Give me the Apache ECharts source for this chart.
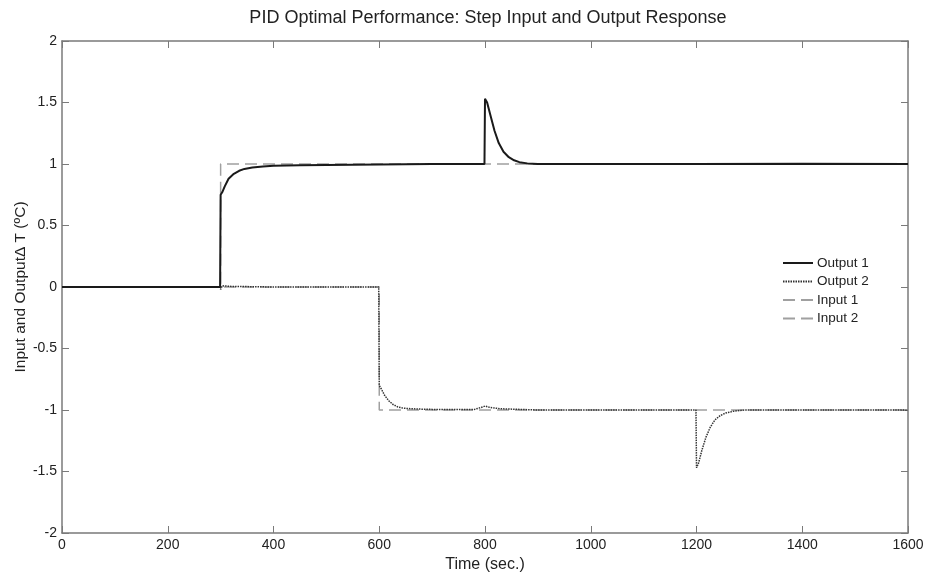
<!DOCTYPE html>
<html>
<head>
<meta charset="utf-8">
<script src="https://cdn.jsdelivr.net/npm/echarts@6/dist/echarts.min.js"></script>
<style>
  html, body { margin: 0; padding: 0; background: #fff; }
  #main { width: 925px; height: 574px; }
</style>
</head>
<body>
<div id="main"></div>
<script>
// values
var xTicks = [0, 200, 400, 600, 800, 1000, 1200, 1400, 1600];
var yTicks = [-2, -1.5, -1, -0.5, 0, 0.5, 1, 1.5, 2];

var out1Time  = [0, 299, 300, 303, 308, 315, 325, 335, 345, 360, 380, 400, 450, 500, 600, 700, 799, 800, 804, 810, 818, 826, 835, 845, 855, 865, 880, 900, 1200, 1400, 1600];
var out1Value = [0, 0, 0.75, 0.77, 0.82, 0.88, 0.92, 0.945, 0.96, 0.972, 0.98, 0.985, 0.99, 0.992, 0.996, 1.0, 1.0, 1.53, 1.5, 1.4, 1.27, 1.17, 1.1, 1.055, 1.03, 1.015, 1.005, 1.0, 1.0, 1.003, 1.0];

var out2Time  = [0, 299, 300, 303, 320, 400, 599, 600, 604, 610, 618, 626, 635, 645, 660, 680, 700, 780, 792, 800, 810, 830, 900, 1199, 1200, 1204, 1210, 1218, 1226, 1235, 1245, 1255, 1270, 1290, 1600];
var out2Value = [0, 0, -0.02, 0.01, 0.005, 0.0, 0.0, -0.8, -0.83, -0.88, -0.925, -0.955, -0.975, -0.985, -0.99, -0.993, -0.995, -0.995, -0.98, -0.968, -0.98, -0.99, -1.0, -1.0, -1.47, -1.43, -1.33, -1.22, -1.14, -1.08, -1.045, -1.025, -1.01, -1.0, -1.0];

var in1Time  = [0, 300, 300, 1600];
var in1Value = [0, 0, 1, 1];
var in2Time  = [0, 600, 600, 1600];
var in2Value = [0, 0, -1, -1];

function pairs(t, v) {
  var res = [];
  for (var i = 0; i < t.length; i++) res.push([t[i], v[i]]);
  return res;
}

var font = 'Liberation Sans, Arial, sans-serif';
var axisColor = '#7a7a7a';
var textColor = '#222';

var option = {
  backgroundColor: '#fff',
  animation: false,
  title: {
    text: 'PID Optimal Performance: Step Input and Output Response',
    left: 483,
    textAlign: 'center',
    top: 4,
    textStyle: { fontFamily: font, fontSize: 18, fontWeight: 'normal', color: textColor }
  },
  legend: {
    orient: 'vertical',
    left: 777,
    top: 251,
    itemWidth: 30,
    itemHeight: 14,
    itemGap: 4.5,
    itemStyle: { opacity: 0 },
    textStyle: { fontFamily: font, fontSize: 13.5, color: textColor, padding: [0, 0, 0, -1] },
    data: ['Output 1', 'Output 2', 'Input 1', 'Input 2']
  },
  grid: { left: 62, right: 17, top: 41, bottom: 41, outerBoundsMode: 'none', containLabel: false },
  xAxis: [{
    type: 'value',
    min: xTicks[0], max: xTicks[xTicks.length - 1], interval: 200,
    name: 'Time (sec.)',
    nameLocation: 'middle',
    nameGap: 22,
    nameTextStyle: { fontFamily: font, fontSize: 16, color: textColor },
    axisLine: { show: true, onZero: false, lineStyle: { color: axisColor, width: 1.5 } },
    axisTick: { show: true, inside: true, length: 7, lineStyle: { color: axisColor } },
    axisLabel: { fontFamily: font, fontSize: 14, color: textColor, margin: 5, formatter: function (v) { return String(v); } },
    splitLine: { show: false }
  }, {
    type: 'value', position: 'top',
    min: xTicks[0], max: xTicks[xTicks.length - 1], interval: 200,
    axisLine: { show: true, onZero: false, lineStyle: { color: axisColor, width: 1.5 } },
    axisTick: { show: true, inside: true, length: 7, lineStyle: { color: axisColor } },
    axisLabel: { show: false },
    splitLine: { show: false }
  }],
  yAxis: [{
    type: 'value',
    min: yTicks[0], max: yTicks[yTicks.length - 1], interval: 0.5,
    name: 'Input and Output\u0394 T (\u00baC)',
    nameLocation: 'middle',
    nameGap: 33,
    nameMoveOverlap: false,
    nameTextStyle: { fontFamily: font, fontSize: 15.5, color: textColor },
    axisLine: { show: true, onZero: false, lineStyle: { color: axisColor, width: 1.5 } },
    axisTick: { show: true, inside: true, length: 7, lineStyle: { color: axisColor } },
    axisLabel: { fontFamily: font, fontSize: 14, color: textColor, margin: 5 },
    splitLine: { show: false }
  }, {
    type: 'value', position: 'right',
    min: yTicks[0], max: yTicks[yTicks.length - 1], interval: 0.5,
    axisLine: { show: true, onZero: false, lineStyle: { color: axisColor, width: 1.5 } },
    axisTick: { show: true, inside: true, length: 7, lineStyle: { color: axisColor } },
    axisLabel: { show: false },
    splitLine: { show: false }
  }],
  series: [{
    name: 'Output 1',
    type: 'line',
    showSymbol: false, symbol: 'none',
    data: pairs(out1Time, out1Value),
    lineStyle: { color: '#1a1a1a', width: 2 },
    itemStyle: { color: '#1a1a1a' },
    z: 4
  }, {
    name: 'Output 2',
    type: 'line',
    showSymbol: false, symbol: 'none',
    data: pairs(out2Time, out2Value),
    lineStyle: { color: '#333', width: 1.5, type: [1.5, 1] },
    itemStyle: { color: '#333' },
    z: 3
  }, {
    name: 'Input 1',
    type: 'line',
    showSymbol: false, symbol: 'none',
    data: pairs(in1Time, in1Value),
    lineStyle: { color: '#a0a0a0', width: 1.5, type: [12, 6] },
    itemStyle: { color: '#a0a0a0' },
    z: 2
  }, {
    name: 'Input 2',
    type: 'line',
    showSymbol: false, symbol: 'none',
    data: pairs(in2Time, in2Value),
    lineStyle: { color: '#a0a0a0', width: 1.5, type: [12, 6] },
    itemStyle: { color: '#a0a0a0' },
    z: 2
  }]
};

var myChart = echarts.init(document.getElementById('main'));
myChart.setOption(option);
</script>
</body>
</html>
